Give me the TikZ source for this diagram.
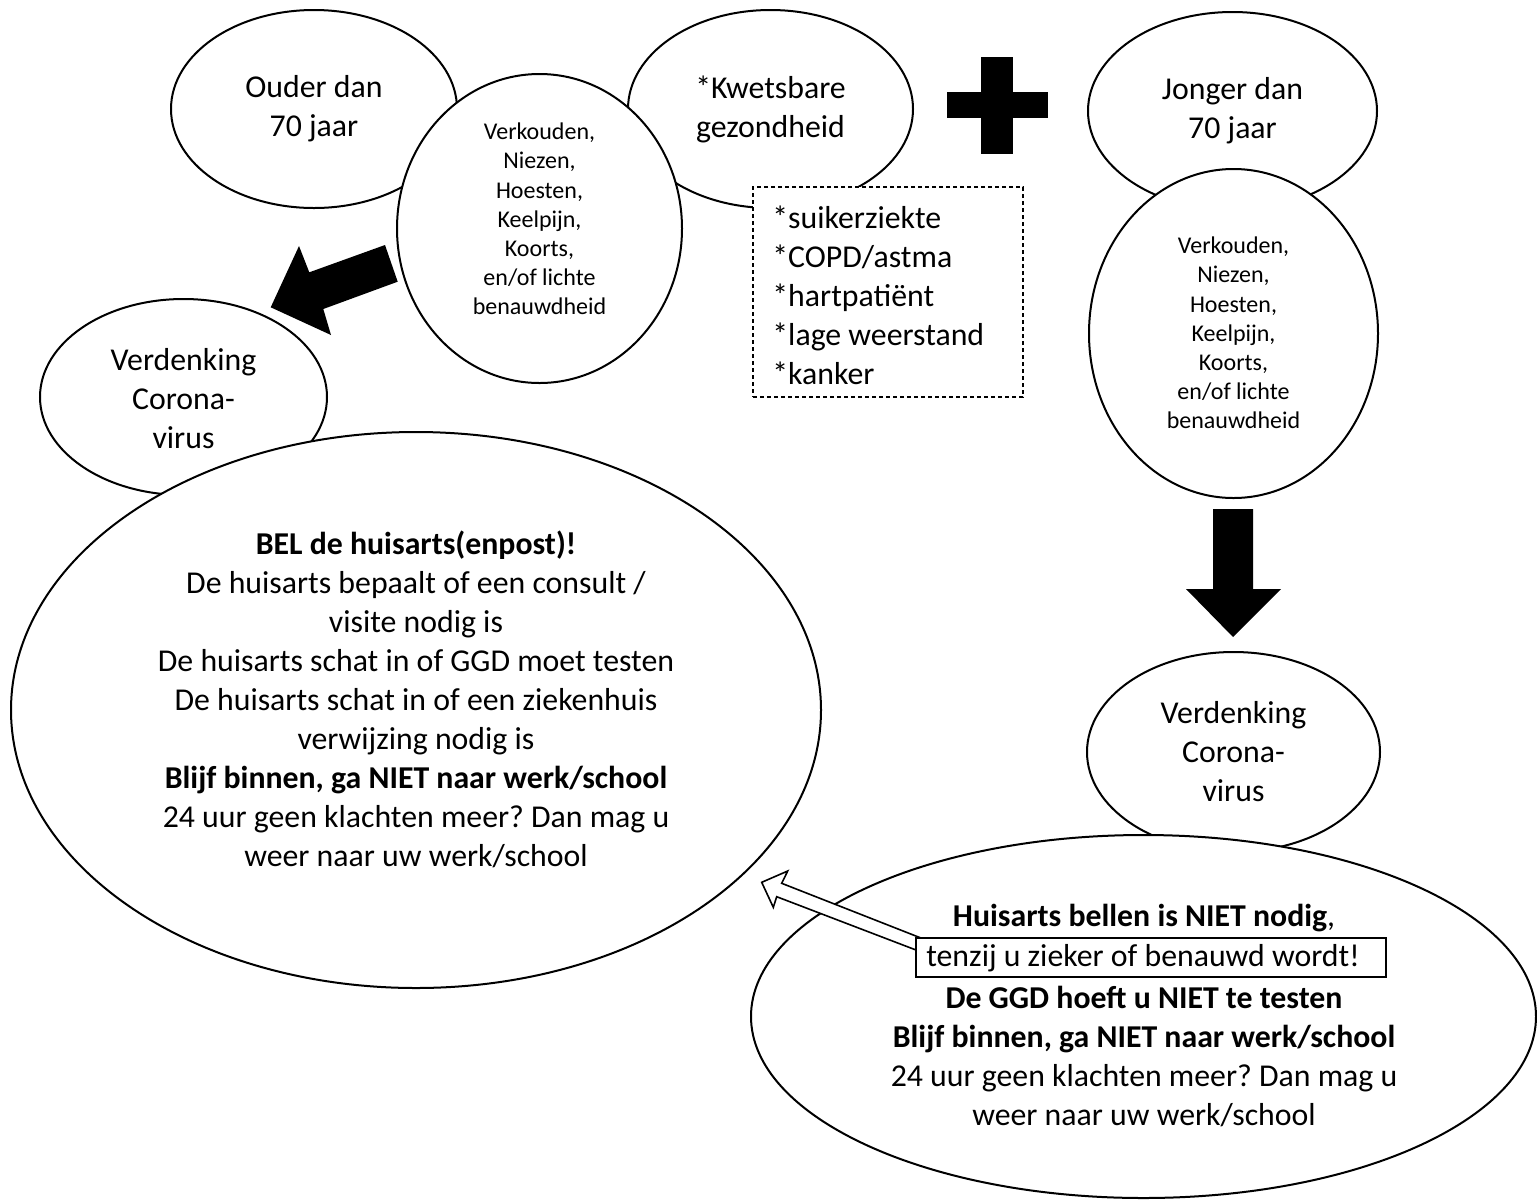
\documentclass[tikz,border=0pt]{standalone}
\usepackage{fontspec}
\setmainfont{Carlito}
\usetikzlibrary{shapes.geometric}
\frenchspacing
\begin{document}
\frenchspacing
\begin{tikzpicture}[x=0.5pt,y=-0.5pt,
  bub/.style={ellipse,draw,fill=white,line width=1pt,inner sep=0pt},
  big/.style={font=\fontsize{15.9}{19.5}\selectfont,align=center,inner sep=0pt},
  small/.style={font=\fontsize{12}{14.6}\selectfont,align=center,inner sep=0pt},
  blockarrow/.style={fill=black},
  hollowarrow/.style={draw,fill=white,line width=0.8pt,line join=miter}]
\useasboundingbox (0,0) rectangle (1537,1201);

% top left cluster
\node[bub,minimum width=143pt,minimum height=99pt] (ouder) at (314,109) {};
\node[bub,minimum width=142.5pt,minimum height=99pt] (kwets) at (770.5,109) {};
\node[bub,minimum width=142.5pt,minimum height=154.5pt] (sym1) at (539.5,228.5) {};
\node[draw,dash pattern=on 2pt off 1.5pt,line width=0.6pt,fill=white,
      minimum width=135pt,minimum height=105pt,inner sep=0pt] (list) at (888,292) {};

% plus sign
\fill (981,57) rectangle (1013,154);
\fill (947,92) rectangle (1048,118);

% right column
\node[bub,minimum width=144.5pt,minimum height=99pt] (jonger) at (1232.5,111) {};
\node[bub,minimum width=144.5pt,minimum height=164.5pt] (sym2) at (1233.5,333.5) {};
\node[bub,minimum width=146.5pt,minimum height=100pt] (verd2) at (1233.5,752) {};
\node[bub,minimum width=392.5pt,minimum height=181.5pt] (adv2) at (1143.5,1016.5) {};

% left column
\node[bub,minimum width=143.5pt,minimum height=98pt] (verd1) at (183.5,397) {};
\node[bub,minimum width=405pt,minimum height=278pt] (adv1) at (416,710) {};

% block arrows
\path[blockarrow] (385,245) -- (397.7,281.7) -- (323.3,309) -- (331,335)
  -- (270.7,307.3) -- (299,246) -- (309.3,272.3) -- cycle;
\path[blockarrow] (1213,509) -- (1253,509) -- (1253,589) -- (1281,589)
  -- (1233,637) -- (1186,589) -- (1213,589) -- cycle;

% hollow arrow
\path[hollowarrow] (761.7,882.3) -- (787.7,871) -- (781.7,883.3) -- (921.7,938.3)
  -- (916,950) -- (776.7,896.7) -- (773.3,907.3) -- cycle;
\node[draw,fill=white,line width=1.1pt,minimum width=235pt,minimum height=19.5pt,
      inner sep=0pt] (tbox) at (1151,957.5) {};

% texts
\node[big] (tOuder) at (314,109) {Ouder dan\\70 jaar};
\node[big] (tKwets) at (770.5,109) {*Kwetsbare\\gezondheid};
\node[small] (tSym1) at (539.5,219) {Verkouden,\\Niezen,\\Hoesten,\\Keelpijn,\\Koorts,\\en/of lichte\\benauwdheid};
\node[big,align=left,anchor=west] (tList) at (772,295) {*suikerziekte\\*COPD/astma\\*hartpatiënt\\*lage weerstand\\*kanker};
\node[big] (tJonger) at (1232.5,111) {Jonger dan\\70 jaar};
\node[small] (tSym2) at (1233.5,333) {Verkouden,\\Niezen,\\Hoesten,\\Keelpijn,\\Koorts,\\en/of lichte\\benauwdheid};
\node[big] (tVerd1) at (183.5,399) {Verdenking\\Corona-\\virus};
\node[big] (tVerd2) at (1233.5,752) {Verdenking\\Corona-\\virus};
\node[big] (tAdv1) at (416,699) {\textbf{BEL de huisarts(enpost)!}\\De huisarts bepaalt of een consult /\\visite nodig is\\De huisarts schat in of GGD moet testen\\De huisarts schat in of een ziekenhuis\\verwijzing nodig is\\\textbf{Blijf binnen, ga NIET naar werk/school}\\24 uur geen klachten meer? Dan mag u\\weer naar uw werk/school};
\node[big] (tR1) at (1144,918) {\textbf{Huisarts bellen is NIET nodig},};
\node[big] (tR2) at (1143,958) {tenzij u zieker of benauwd wordt!};
\node[big] (tR3) at (1144,1056.5) {\textbf{De GGD hoeft u NIET te testen}\\\textbf{Blijf binnen, ga NIET naar werk/school}\\24 uur geen klachten meer? Dan mag u\\weer naar uw werk/school};
\end{tikzpicture}
\end{document}
